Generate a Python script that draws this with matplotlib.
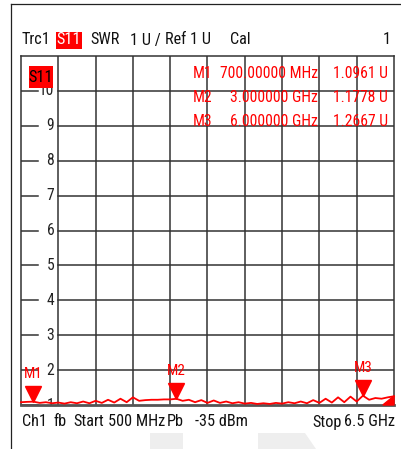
import matplotlib
matplotlib.use("Agg")
import matplotlib.pyplot as plt
from matplotlib import transforms
from matplotlib import font_manager as fm
from matplotlib.patches import Polygon, Rectangle
from matplotlib.lines import Line2D

# ---------------- data ----------------
freq_ghz = [0.5, 0.6, 0.7, 0.8, 0.9, 1.0, 1.1, 1.2, 1.3, 1.4, 1.5, 1.6, 1.7, 1.8, 1.9,
            2.0, 2.1, 2.2, 2.3, 2.4, 2.5, 2.6, 2.7, 2.8, 2.9, 3.0, 3.1, 3.2, 3.3, 3.4,
            3.5, 3.6, 3.7, 3.8, 3.9, 4.0, 4.1, 4.2, 4.3, 4.4, 4.5, 4.6, 4.7, 4.8, 4.9,
            5.0, 5.1, 5.2, 5.3, 5.4, 5.5, 5.6, 5.7, 5.8, 5.9, 6.0, 6.1, 6.2, 6.3, 6.4, 6.5]
swr = [1.08, 1.09, 1.096, 1.06, 1.08, 1.05, 1.07, 1.04, 1.08, 1.05, 1.10, 1.05, 1.12, 1.06, 1.15,
       1.07, 1.18, 1.08, 1.22, 1.12, 1.14, 1.15, 1.15, 1.16, 1.16, 1.178, 1.12, 1.15, 1.08, 1.14,
       1.06, 1.13, 1.06, 1.10, 1.05, 1.08, 1.04, 1.06, 1.03, 1.05, 1.03, 1.06, 1.04, 1.08, 1.05,
       1.10, 1.05, 1.14, 1.06, 1.18, 1.07, 1.22, 1.08, 1.24, 1.10, 1.267, 1.15, 1.20, 1.18, 1.22, 1.25]

marker_names = ["M1", "M2", "M3"]
marker_freq = [0.7, 3.0, 6.0]
marker_val = [1.0961, 1.1778, 1.2667]
marker_freq_text = ["700.00000 MHz", "3.000000 GHz", "6.000000 GHz"]
marker_val_text = ["1.0961 U", "1.1778 U", "1.2667 U"]

y_ticks = [2, 3, 4, 5, 6, 7, 8, 9, 10]
y_tick_labels = ["2", "3", "4", "5", "6", "7", "8", "9", "10"]
x_start, x_stop, x_div = 0.5, 6.5, 10
y_min, y_max = 1, 11

# pick a narrow font if one is installed, otherwise shrink Liberation Sans
_names = {f.name for f in fm.fontManager.ttflist}
_narrow = [n for n in ["Liberation Sans Narrow", "Roboto Condensed", "Open Sans Condensed",
                       "Arial Narrow"] if n in _names]
if _narrow:
    FONT = [_narrow[0], "DejaVu Sans"]
    SCALE = 0.9 if _narrow[0] != "Liberation Sans Narrow" else 0.97
else:
    FONT = ["Liberation Sans", "DejaVu Sans"]
    SCALE = 0.78

RED = "#ff0000"
GRID = "#333333"
TXT = "#111111"

W, H = 401, 449
fig = plt.figure(figsize=(W / 100, H / 100), dpi=100)
fig.patch.set_facecolor("white")


def fx(x):
    return x / W


def fy(y):
    return 1 - y / H


def fs(s):
    return s * SCALE


# outer frame lines
fig.add_artist(Line2D([fx(11), fx(11)], [fy(4), fy(449)], color="#222222", lw=0.9))
fig.add_artist(Line2D([fx(11), fx(401)], [fy(4), fy(4)], color="#222222", lw=0.9))

# watermark shapes
fig.add_artist(Polygon([[fx(150), fy(433)], [fx(183), fy(433)], [fx(183), fy(449)], [fx(150), fy(449)]],
                       closed=True, facecolor="#eeeeee", edgecolor="none"))
fig.add_artist(Polygon([[fx(258), fy(433)], [fx(305), fy(433)], [fx(316), fy(449)], [fx(258), fy(449)]],
                       closed=True, facecolor="#eeeeee", edgecolor="none"))

# axes
L, R, T, B = 21, 394, 56, 405
ax = fig.add_axes([fx(L), fy(B), (R - L) / W, (B - T) / H])
ax.set_xlim(x_start, x_stop)
ax.set_ylim(y_min, y_max)
ax.set_xticks([])
ax.set_yticks([])
for s in ax.spines.values():
    s.set_color(GRID)
    s.set_linewidth(1.1)
ax.spines["bottom"].set_color("#555555")
ax.spines["bottom"].set_linewidth(2.0)

step = (x_stop - x_start) / x_div
for k in range(1, x_div):
    ax.axvline(x_start + k * step, color=GRID, lw=1.1, zorder=1)
for yt, lab in zip(y_ticks, y_tick_labels):
    ax.plot([x_start + step, x_stop], [yt, yt], color=GRID, lw=1.1, zorder=1)
    ax.plot([x_start, x_start + 0.28], [yt, yt], color=GRID, lw=1.1, zorder=1)
    ax.text(x_start + 0.535, yt, lab, ha="right", va="center", family=FONT,
            fontsize=fs(12.5), color="#222222", zorder=2)
ax.plot([x_start, x_start + 0.28], [1, 1], color=GRID, lw=1.1, zorder=1)
ax.text(x_start + 0.535, 1, "1", ha="right", va="center", family=FONT,
        fontsize=fs(12.5), color="#222222", zorder=2, clip_on=True)

# trace
ax.plot(freq_ghz, swr, color=RED, lw=1.3, zorder=4, clip_on=False)

# reference triangle at right edge
ax.add_patch(Polygon([[1.0, 0.0], [1.0, 0.026], [0.97, 0.0]], closed=True,
                     transform=ax.transAxes, facecolor=RED, edgecolor=RED, zorder=5, clip_on=False))

# markers
for name, f, v in zip(marker_names, marker_freq, marker_val):
    tr = transforms.offset_copy(ax.transData, fig=fig, x=0, y=5.5, units="points")
    ax.plot([f], [v], marker="v", markersize=11, color=RED, transform=tr, zorder=5)
    tr2 = transforms.offset_copy(ax.transData, fig=fig, x=0, y=20, units="points")
    ax.text(f, v, name, transform=tr2, ha="center", va="center", family=FONT,
            fontsize=fs(12), color=RED, zorder=5)

# S11 label in plot
ax.add_artist(Rectangle((fx(29), fy(88)), (53 - 29) / W, (88 - 66) / H, transform=fig.transFigure,
                        facecolor=RED, edgecolor="none", zorder=6))
fig.text(fx(41), fy(77), "S11", ha="center", va="center", family=FONT, fontsize=fs(13),
         color="black", zorder=7)

# marker table
rows_y = [73, 97, 121]
for name, ft, vt, yy in zip(marker_names, marker_freq_text, marker_val_text, rows_y):
    fig.text(fx(212), fy(yy), name, ha="right", va="center", family=FONT, fontsize=fs(12.5), color=RED, zorder=8)
    fig.text(fx(318), fy(yy), ft, ha="right", va="center", family=FONT, fontsize=fs(12.5), color=RED, zorder=8)
    fig.text(fx(388), fy(yy), vt, ha="right", va="center", family=FONT, fontsize=fs(12.5), color=RED, zorder=8)

# header
hy = 40
HS = fs(13)
fig.text(fx(22), fy(hy), "Trc1", ha="left", va="center", family=FONT, fontsize=HS, color=TXT)
fig.add_artist(Rectangle((fx(56), fy(49)), (82 - 56) / W, (49 - 32) / H, transform=fig.transFigure,
                         facecolor=RED, edgecolor="none"))
fig.text(fx(69), fy(hy), "S11", ha="center", va="center", family=FONT, fontsize=HS, color="white")
fig.text(fx(90), fy(hy), "SWR", ha="left", va="center", family=FONT, fontsize=HS, color=TXT)
fig.text(fx(130), fy(hy), "1 U /", ha="left", va="center", family=FONT, fontsize=HS, color=TXT)
fig.text(fx(165), fy(hy), "Ref 1 U", ha="left", va="center", family=FONT, fontsize=HS, color=TXT)
fig.text(fx(230), fy(hy), "Cal", ha="left", va="center", family=FONT, fontsize=HS, color=TXT)
fig.text(fx(391), fy(hy), "1", ha="right", va="center", family=FONT, fontsize=HS, color=TXT)

# footer
by = 422
for txt, x in [("Ch1", 22), ("fb", 53), ("Start", 73), ("500 MHz", 108), ("Pb", 167),
               ("-35 dBm", 195), ("Stop", 312)]:
    fig.text(fx(x), fy(by), txt, ha="left", va="center", family=FONT, fontsize=HS, color=TXT)
fig.text(fx(395), fy(by), "6.5 GHz", ha="right", va="center", family=FONT, fontsize=HS, color=TXT)

fig.savefig("out.png", dpi=100, facecolor="white")
